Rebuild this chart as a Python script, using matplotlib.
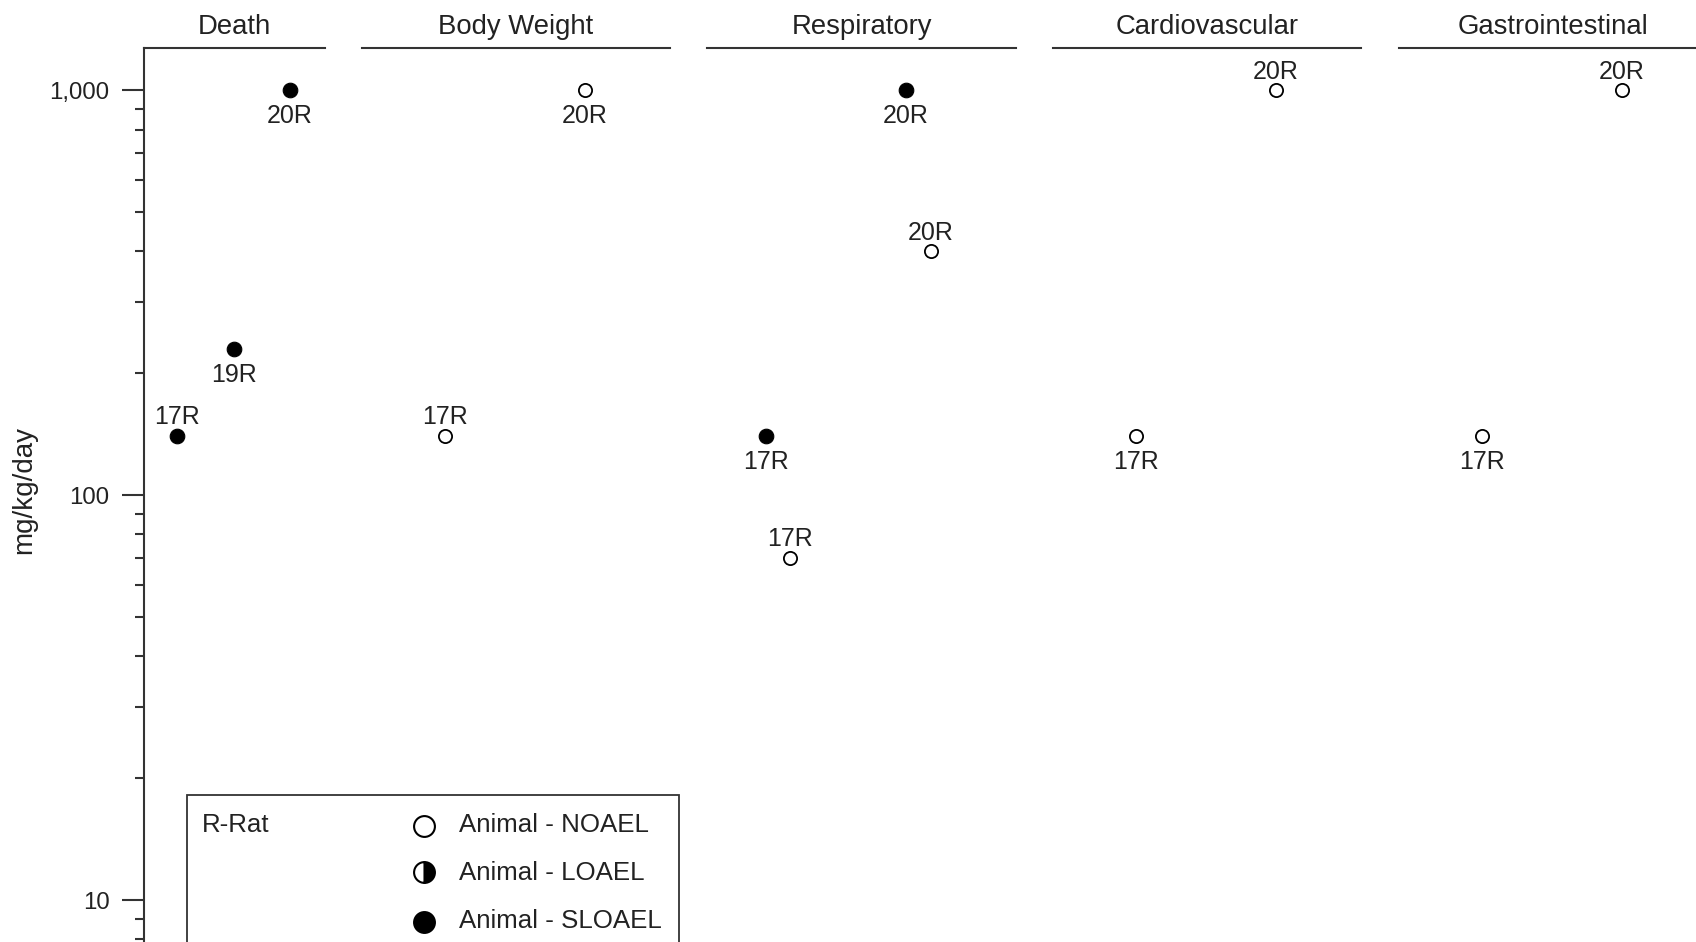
import matplotlib
matplotlib.use("Agg")
import matplotlib.pyplot as plt
from matplotlib.lines import Line2D
from matplotlib.patches import Rectangle
from matplotlib.ticker import LogLocator, NullFormatter, FuncFormatter

plt.rcParams['font.family'] = ['Liberation Sans', 'DejaVu Sans']

# ---- data -------------------------------------------------------------
endpoints = ["Death", "Body Weight", "Respiratory", "Cardiovascular", "Gastrointestinal"]

pt_endpoint = [0, 0, 0, 1, 1, 2, 2, 2, 2, 3, 3, 4, 4]
pt_study = ["17R", "19R", "20R", "17R", "20R", "17R", "17R", "20R", "20R",
            "17R", "20R", "17R", "20R"]
pt_dose = [140, 230, 1000, 140, 1000, 140, 70, 1000, 400, 140, 1000, 140, 1000]
pt_level = ["SLOAEL", "SLOAEL", "SLOAEL", "NOAEL", "NOAEL", "SLOAEL", "NOAEL",
            "SLOAEL", "NOAEL", "NOAEL", "NOAEL", "NOAEL", "NOAEL"]
# study column within each endpoint panel (fraction of panel width)
pt_column = [0.181, 0.495, 0.807, 0.269, 0.724, 0.19, 0.27, 0.644, 0.724,
             0.269, 0.724, 0.269, 0.724]
pt_label_side = ["above", "below", "below", "above", "below", "below", "above",
                 "below", "above", "below", "above", "below", "above"]

major_ticks = [10, 100, 1000]
y_label = "mg/kg/day"
legend_species = "R-Rat"
legend_levels = ["NOAEL", "LOAEL", "SLOAEL"]

# ---- layout (pixels) --------------------------------------------------
W, H = 1696, 942
fig = plt.figure(figsize=(W / 100, H / 100), dpi=100)
fig.patch.set_facecolor("white")

panel_px = [(144, 325), (362, 670), (707, 1016), (1053, 1361), (1399, 1707)]
top_px, bot_px = 48, 950
ylim = (7.53, 1272)
INK = "#222222"
AX = "#333333"

marker_style = {
    "NOAEL": dict(marker="o", mfc="white", mec="black", ms=9.5, mew=1.3),
    "LOAEL": dict(marker="o", fillstyle="right", mfc="black",
                  markerfacecoloralt="white", mec="black", ms=9.5, mew=1.3),
    "SLOAEL": dict(marker="o", mfc="black", mec="black", ms=10.5, mew=0.8),
}

axes = []
for i, (name, (x0, x1)) in enumerate(zip(endpoints, panel_px)):
    ax = fig.add_axes([x0 / W, 1 - bot_px / H, (x1 - x0) / W, (bot_px - top_px) / H])
    ax.set_yscale("log")
    ax.set_ylim(*ylim)
    ax.set_xlim(0, 1)
    ax.patch.set_alpha(0)
    for s in ("right", "bottom"):
        ax.spines[s].set_visible(False)
    ax.spines["top"].set_color(AX)
    ax.spines["top"].set_linewidth(1.5)
    ax.set_xticks([])
    if i == 0:
        ax.spines["left"].set_color(AX)
        ax.spines["left"].set_linewidth(1.5)
        ax.yaxis.set_major_locator(LogLocator(base=10, subs=(1.0,)))
        ax.yaxis.set_minor_locator(LogLocator(base=10, subs=range(2, 10)))
        ax.yaxis.set_minor_formatter(NullFormatter())
        ax.yaxis.set_major_formatter(
            FuncFormatter(lambda v, p: f"{int(round(v)):,}" if v in major_ticks else ""))
        ax.tick_params(axis="y", which="major", length=15.8, width=1.5, color=AX,
                       pad=9, labelsize=17.3, labelcolor=INK)
        ax.tick_params(axis="y", which="minor", length=6.5, width=1.5, color=AX)
    else:
        ax.spines["left"].set_visible(False)
        ax.set_yticks([])
        ax.yaxis.set_minor_locator(plt.NullLocator())
    ax.set_title(name, fontsize=19.8, color=INK, pad=10)
    axes.append(ax)

# ---- points -----------------------------------------------------------
for e, s, d, lv, c, side in zip(pt_endpoint, pt_study, pt_dose, pt_level,
                                 pt_column, pt_label_side):
    ax = axes[e]
    ax.plot([c], [d], linestyle="none", clip_on=False, zorder=3, **marker_style[lv])
    dy = 13.4 if side == "above" else -18.8
    ax.annotate(s, (c, d), xytext=(0, dy), textcoords="offset points",
                ha="center", va="center", fontsize=18, color=INK,
                annotation_clip=False)

fig.text(24 / W, 1 - 490 / H, y_label, rotation=90, ha="center", va="center",
         fontsize=20, color=INK)

# ---- legend box -------------------------------------------------------
fig.add_artist(Rectangle((187 / W, 1 - 1000 / H), (679 - 187) / W, (1000 - 795) / H,
                         transform=fig.transFigure, fill=False, lw=1.3, ec=AX))
fig.text(202 / W, 1 - 825 / H, legend_species, ha="left", va="center",
         fontsize=18.6, color=INK)
for lv, ty, my in zip(legend_levels, [825.5, 873.5, 921], [826, 871.5, 922]):
    st = dict(marker_style[lv])
    st["ms"] = 15
    st["mew"] = 1.5
    fig.add_artist(Line2D([424 / W], [1 - my / H], transform=fig.transFigure,
                          linestyle="none", **st))
    fig.text(459 / W, 1 - ty / H, f"Animal - {lv}", ha="left", va="center",
             fontsize=18.6, color=INK)

fig.savefig("out.png", dpi=100)
